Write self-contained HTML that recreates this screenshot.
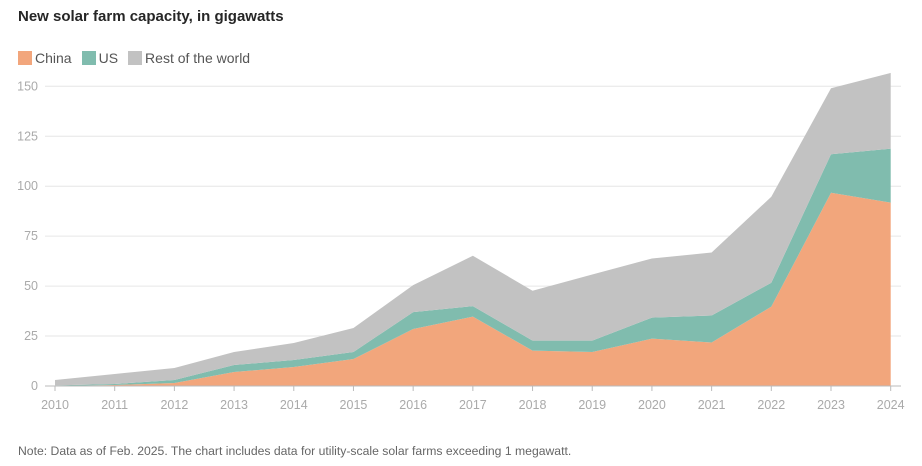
<!DOCTYPE html>
<html><head><meta charset="utf-8"><style>
body{margin:0;background:#fff;font-family:"Liberation Sans",sans-serif;}
#wrap{position:relative;width:922px;height:466px;overflow:hidden}
.title{position:absolute;left:18px;top:8px;font-size:15px;font-weight:bold;color:#262626}
.legend{position:absolute;left:18px;top:50px;font-size:14px;color:#555;display:flex;align-items:center}
.sw{display:inline-block;width:14px;height:14px;margin-right:3px}
.li{display:flex;align-items:center;margin-right:10px}
.note{position:absolute;left:18px;top:444px;font-size:12.2px;color:#666}
svg{position:absolute;left:0;top:0}
</style></head><body>
<div id="wrap">
<div class="title">New solar farm capacity, in gigawatts</div>
<div class="legend">
<span class="li"><span class="sw" style="background:#f2a67c"></span>China</span>
<span class="li"><span class="sw" style="background:#80bcae"></span>US</span>
<span class="li"><span class="sw" style="background:#c2c2c2"></span>Rest of the world</span>
</div>
<svg id="svg" width="922" height="466"></svg>
<div class="note">Note: Data as of Feb. 2025. The chart includes data for utility-scale solar farms exceeding 1 megawatt.</div>
</div>
<script>
const years=[2010,2011,2012,2013,2014,2015,2016,2017,2018,2019,2020,2021,2022,2023,2024];
const china=[0,0.5,1.5,7,9.5,13.5,28.5,34.7,17.7,17,23.7,21.8,39.7,96.7,91.8];
const us=[0.3,0.5,1.5,3.5,3.5,3.5,8.5,5.3,5,5.7,10.5,13.5,12,19.3,27];
const rest=[2.7,5,6,6.5,8.5,12,13.5,25.2,25,33.1,29.6,31.5,43,33,37.9];
const yTicks=[0,25,50,75,100,125,150];
const NS="http://www.w3.org/2000/svg";
const svg=document.getElementById('svg');
const x0=55,x1=890.7,y0=386,yPerUnit=(386-86.3)/150;
const xs=i=>x0+(x1-x0)*(i/(years.length-1));
const ys=v=>y0-v*yPerUnit;
function mk(t,a){const e=document.createElementNS(NS,t);for(const k in a)e.setAttribute(k,a[k]);svg.appendChild(e);return e;}
yTicks.forEach(v=>{
  if(v>0){const g=mk('line',{x1:45,x2:901,y1:ys(v),y2:ys(v),stroke:'#e6e6e6','stroke-width':1});
  
  }
  const t=mk('text',{x:38,y:ys(v)+4,'text-anchor':'end','font-size':12.5,fill:'#aaa','font-family':'Liberation Sans, sans-serif'});
  t.textContent=v;
  
  
});
const base=years.map(()=>0);
const series=[[china,'#f2a67c','area-china'],[us,'#80bcae','area-us'],[rest,'#c2c2c2','area-rest']];
series.forEach(([vals,col,name])=>{
  const top=base.map((b,i)=>b+vals[i]);
  let d='M'+years.map((_,i)=>xs(i)+','+ys(top[i])).join('L');
  for(let i=years.length-1;i>=0;i--)d+='L'+xs(i)+','+ys(base[i]);
  d+='Z';
  const p=mk('path',{d:d,fill:col});
  
  
  top.forEach((v,i)=>base[i]=v);
});
const ax=mk('line',{x1:45,x2:901,y1:y0,y2:y0,stroke:'#bbb','stroke-width':1});


years.forEach((yr,i)=>{
  const tk=mk('line',{x1:xs(i),x2:xs(i),y1:y0,y2:y0+5,stroke:'#bbb'});
  
  
  const t=mk('text',{x:xs(i),y:409,'text-anchor':'middle','font-size':12.5,fill:'#aaa','font-family':'Liberation Sans, sans-serif'});
  t.textContent=yr;
  
  
});
</script>
</body></html>
